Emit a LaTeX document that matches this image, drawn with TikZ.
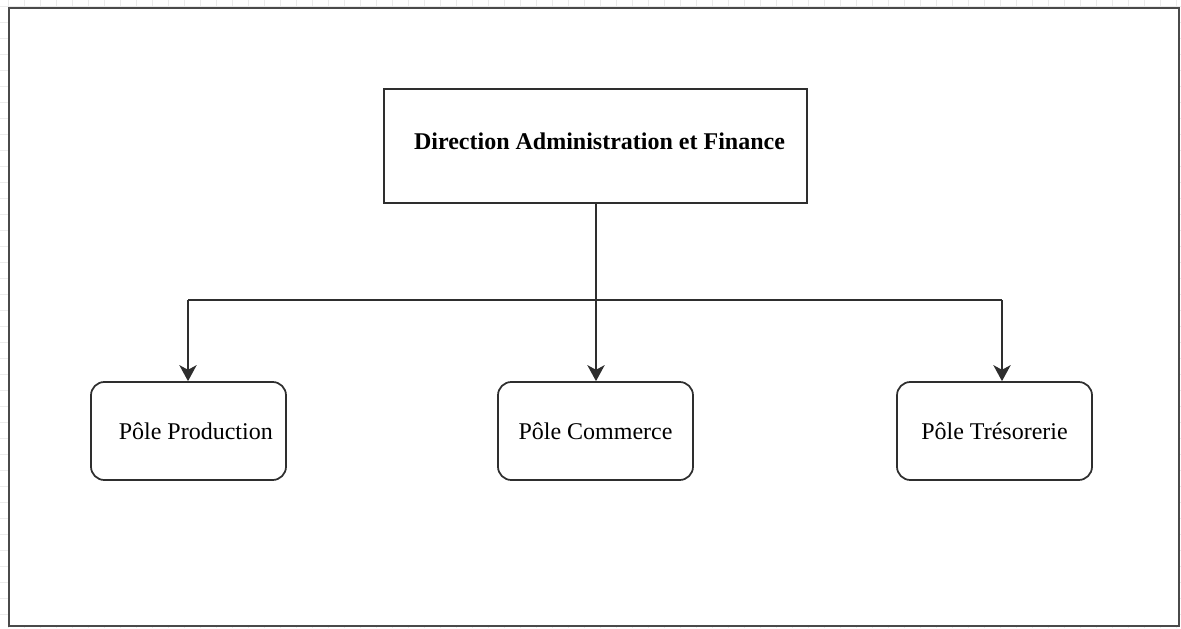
\documentclass[tikz,border=0pt]{standalone}
\usepackage{fontspec}
\setmainfont{Liberation Serif}
\usetikzlibrary{arrows.meta}
\definecolor{frame}{HTML}{4A4A4A}
\definecolor{edge}{HTML}{2E2E2E}
\definecolor{gridc}{HTML}{EBEBEB}
\begin{document}
\begin{tikzpicture}[x=0.75pt,y=-0.75pt,
  topbox/.style={draw=edge, line width=1.4pt, fill=white, minimum width=317.25pt, minimum height=85.5pt, inner sep=0pt},
  polebox/.style={draw=edge, line width=1.3pt, rounded corners=10pt, fill=white, minimum width=146.25pt, minimum height=73.5pt, inner sep=0pt, font=\fontsize{18}{21}\selectfont},
  conn/.style={draw=edge, line width=1.2pt},
  arr/.style={conn, -{Stealth[length=12pt, width=13pt, inset=3.5pt]}}
]
\useasboundingbox (0,0) rectangle (1181,628);
% faint background grid
\foreach \i in {0,...,74} {\draw[gridc, line width=0.5pt] (8+16*\i,0) -- (8+16*\i,628);}
\foreach \j in {0,...,40} {\draw[gridc, line width=0.5pt] (0,6+16*\j) -- (1181,6+16*\j);}
% frame
\draw[frame, line width=1.6pt, fill=white] (9,8) rectangle (1179,626);

\node[topbox, label={[font=\fontsize{18}{21}\selectfont\bfseries, xshift=3pt, yshift=3.5pt]center:Direction Administration et Finance}] (top) at (595.5,146) {};

\node[polebox] (prod) at (188.5,431) {\hspace*{11pt}Pôle Production};
\node[polebox] (comm) at (595.5,431) {Pôle Commerce};
\node[polebox] (tres) at (994.5,431) {Pôle Trésorerie};

\coordinate (vt) at (596,203);
\coordinate (hl) at (188,300);
\coordinate (hr) at (1002,300);

\draw[arr] (vt) -- (vt |- comm.north);
\draw[conn] (hl) -- (hr);
\draw[arr] (hl) -- (hl |- prod.north);
\draw[arr] (hr) -- (hr |- tres.north);
\end{tikzpicture}
\end{document}
